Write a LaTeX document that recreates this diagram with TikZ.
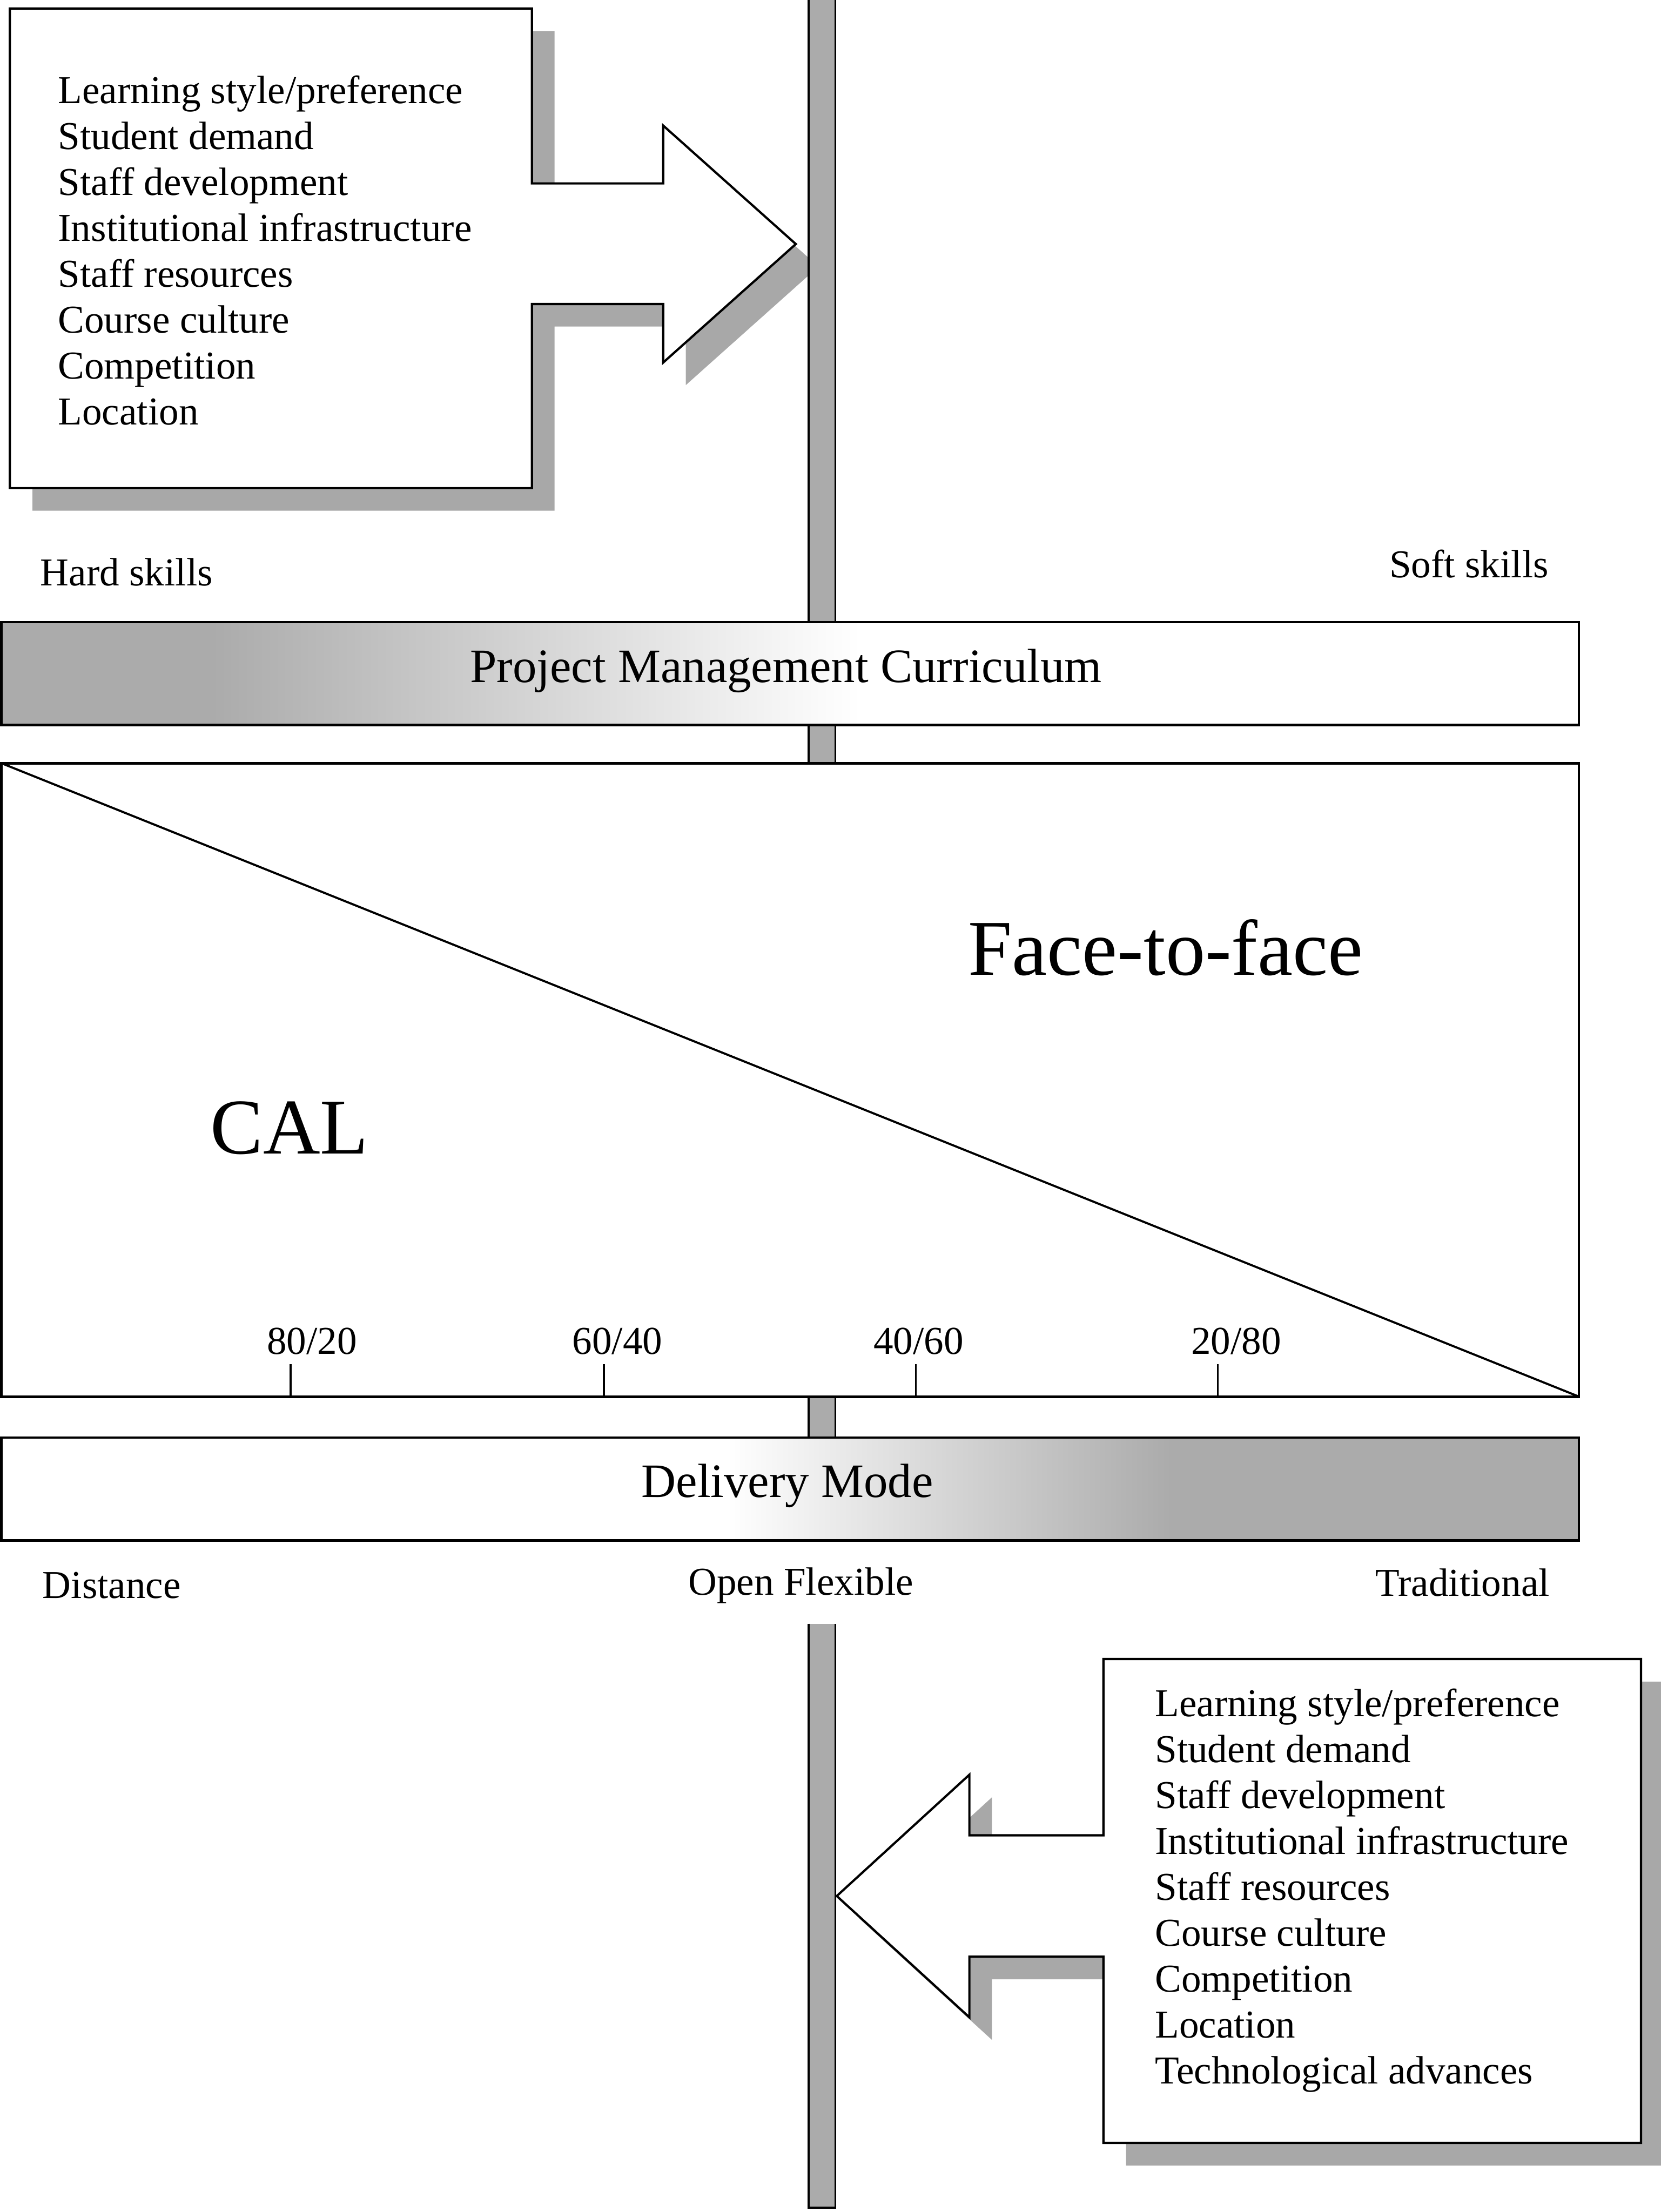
\documentclass[tikz,border=0pt]{standalone}
\usepackage{fontspec}
\setmainfont{Liberation Serif}
\definecolor{shadowgray}{HTML}{A8A8A8}
\definecolor{bargray}{HTML}{ABABAB}
\definecolor{fadegray}{HTML}{ABABAB}

% Outline of the upper factor box with its arrow pointing right
\newcommand\factorboxupper[1]{%
  \path[#1] (7,6) -- (377,6) -- (377,130) -- (470,130) -- (470,89)
    -- (564,173) -- (470,257) -- (470,215.5) -- (377,215.5)
    -- (377,346) -- (7,346) -- cycle;}
% Outline of the lower factor box with its arrow pointing left
\newcommand\factorboxlower[1]{%
  \path[#1] (782,1176) -- (1163,1176) -- (1163,1519) -- (782,1519)
    -- (782,1387) -- (687,1387) -- (687,1430) -- (593,1344)
    -- (687,1258) -- (687,1301) -- (782,1301) -- cycle;}

\begin{document}
\begin{tikzpicture}[x=1pt,y=-1pt,
  outline/.style={draw=black, line width=1.8pt},
  boxline/.style={draw=black, line width=1.6pt, fill=white},
  shadowfill/.style={fill=shadowgray, draw=none},
  axisline/.style={draw=black, line width=1.4pt},
  itemtext/.style={font=\fontsize{28}{34}\selectfont, anchor=base west, inner sep=0pt},
  scaletext/.style={font=\fontsize{28}{34}\selectfont, anchor=base, inner sep=0pt},
  sidetext/.style={font=\fontsize{28}{34}\selectfont, anchor=base west, inner sep=0pt},
  bartext/.style={font=\fontsize{34}{40}\selectfont, anchor=base, inner sep=0pt},
  bigtext/.style={font=\fontsize{56}{64}\selectfont, anchor=base west, inner sep=0pt},
]
\useasboundingbox[fill=white] (0,0) rectangle (1177,1568);

% drop shadows of the two factor boxes
\factorboxupper{shadowfill, shift={(16,16)}}
\factorboxlower{shadowfill, shift={(16,16)}}

% central vertical axis: upper part down to the delivery band
\draw[axisline, fill=bargray] (573,-5) rectangle (592,1092);
% lower part, resuming below the "Open Flexible" label
\fill[bargray] (573,1151) rectangle (592,1565);
\draw[axisline] (573,1151) -- (573,1565) -- (592,1565) -- (592,1151);

% factor boxes
\factorboxupper{boxline}
\factorboxlower{boxline}
\coordinate (uppertip) at (564,173);
\coordinate (lowertip) at (593,1344);

\foreach \t [count=\i] in {Learning style/preference, Student demand,
    Staff development, Institutional infrastructure, Staff resources,
    Course culture, Competition, Location}
  \node[itemtext] (up\i) at (41,{73.4+32.5*(\i-1)}) {\t};

\foreach \t [count=\i] in {Learning style/preference, Student demand,
    Staff development, Institutional infrastructure, Staff resources,
    Course culture, Competition, Location, Technological advances}
  \node[itemtext] (lo\i) at (818.4,{1216.6+32.55*(\i-1)}) {\t};

% skills labels
\node[sidetext] (hard) at (28.5,415) {Hard skills};
\node[sidetext] (soft) at (984.5,409.5) {Soft skills};

% curriculum band, shaded from the hard-skills side
\fill[white] (1,441) rectangle (1119,514);
\fill[fadegray] (1,441) rectangle (150,514);
\shade[left color=fadegray, right color=white] (150,441) rectangle (610,514);
\draw[outline] (1,441) rectangle (1119,514);
\node[bartext] (pmc) at (557,483.7) {Project Management Curriculum};

% CAL / face-to-face split
\draw[outline, fill=white] (1,541) rectangle (1119,990);
\coordinate (splitstart) at (1,541);
\coordinate (splitend) at (1119,990);
\draw[line width=1.5pt] (splitstart) -- (splitend);
\node[bigtext] (ftf) at (686,691) {Face-to-face};
\node[bigtext] (cal) at (149,818) {CAL};

\foreach \x/\lx/\r [count=\i] in {206/221/80\slash 20, 428/437.5/60\slash 40,
    649/651/40\slash 60, 863/876/20\slash 80} {
  \coordinate (tk\i) at (\x,967);
  \coordinate (tb\i) at (\x,990);
  \draw[line width=1.3pt] (tk\i) -- (tb\i);
  \node[scaletext] (ratio\i) at (\lx,960) {\r};
}

% delivery band, shaded towards the traditional side
\fill[white] (1,1019) rectangle (1119,1092);
\shade[left color=white, right color=fadegray] (515,1019) rectangle (830,1092);
\fill[fadegray] (830,1019) rectangle (1119,1092);
\draw[outline] (1,1019) rectangle (1119,1092);
\node[bartext] (dm) at (558,1061.5) {Delivery Mode};

\node[sidetext] (dist) at (30,1133) {Distance};
\node[scaletext] (open) at (567.6,1130.5) {Open Flexible};
\node[sidetext] (trad) at (974.6,1131.5) {Traditional};
\end{tikzpicture}
\end{document}
